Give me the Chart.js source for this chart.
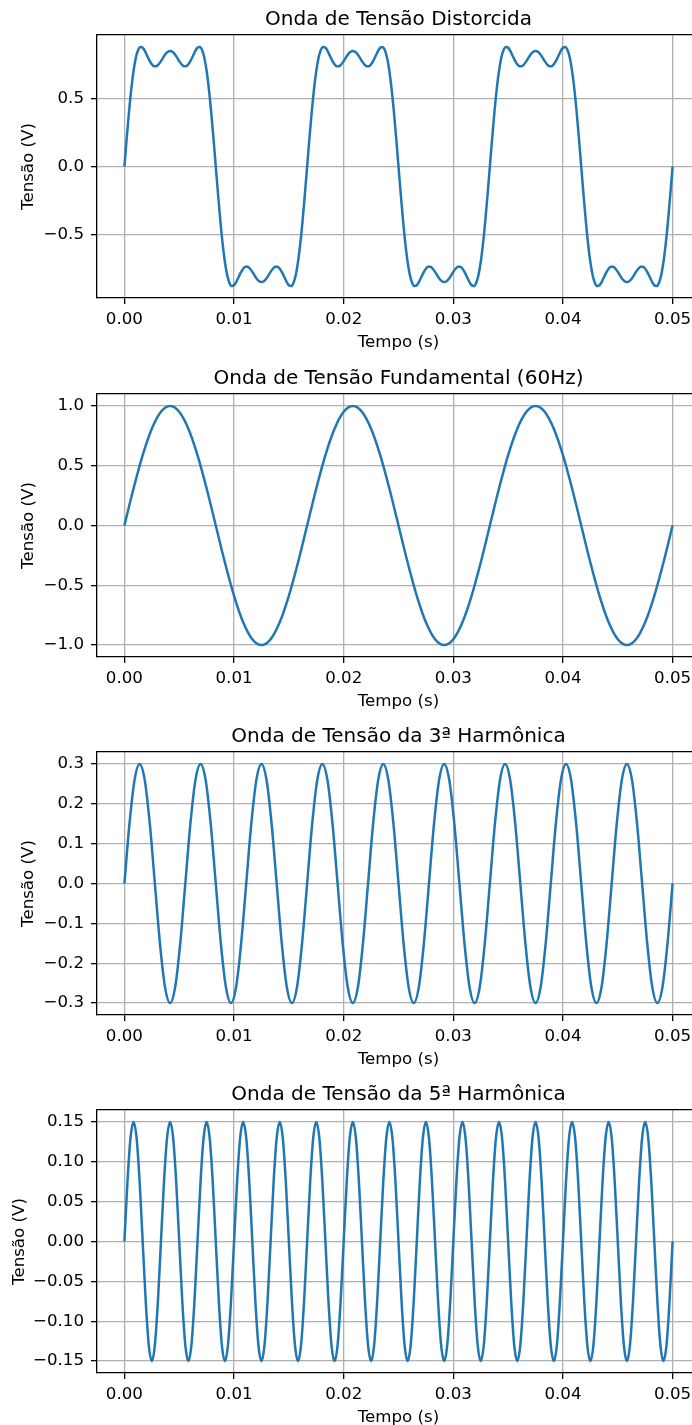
<!DOCTYPE html>
<html>
<head>
<meta charset="utf-8">
<script src="https://cdn.jsdelivr.net/npm/chart.js@4.4.1/dist/chart.umd.min.js"></script>
<style>
  html, body { margin: 0; padding: 0; background: #fff; overflow: hidden; }
  #fig { position: relative; width: 692px; height: 1425px; overflow: hidden; }
  canvas { position: absolute; left: 0; }
</style>
</head>
<body>
<div id="fig">
  <canvas id="c1" width="700" height="358" style="top:0px"></canvas>
  <canvas id="c2" width="700" height="358" style="top:359px"></canvas>
  <canvas id="c3" width="700" height="358" style="top:717px"></canvas>
  <canvas id="c4" width="700" height="358" style="top:1075px"></canvas>
</div>
<script>
// amostras, uniformes de 0 a 0.05 s
const tempoFinal = 0.05;

const ondaDistorcida = [
  0, 0.206, 0.399, 0.567, 0.702, 0.799, 0.856, 0.879, 0.873, 0.848, 0.813, 0.779, 0.752, 0.738, 0.738, 0.752, 0.775, 0.802, 0.827, 0.844,
  0.850, 0.844, 0.827, 0.802, 0.775, 0.752, 0.738, 0.738, 0.752, 0.779, 0.813, 0.848, 0.873, 0.879, 0.856, 0.799, 0.702, 0.567, 0.399, 0.206,
  0, -0.206, -0.399, -0.567, -0.702, -0.799, -0.856, -0.879, -0.873, -0.848, -0.813, -0.779, -0.752, -0.738, -0.738, -0.752, -0.775, -0.802, -0.827, -0.844,
  -0.850, -0.844, -0.827, -0.802, -0.775, -0.752, -0.738, -0.738, -0.752, -0.779, -0.813, -0.848, -0.873, -0.879, -0.856, -0.799, -0.702, -0.567, -0.399, -0.206,
  0, 0.206, 0.399, 0.567, 0.702, 0.799, 0.856, 0.879, 0.873, 0.848, 0.813, 0.779, 0.752, 0.738, 0.738, 0.752, 0.775, 0.802, 0.827, 0.844,
  0.850, 0.844, 0.827, 0.802, 0.775, 0.752, 0.738, 0.738, 0.752, 0.779, 0.813, 0.848, 0.873, 0.879, 0.856, 0.799, 0.702, 0.567, 0.399, 0.206,
  0, -0.206, -0.399, -0.567, -0.702, -0.799, -0.856, -0.879, -0.873, -0.848, -0.813, -0.779, -0.752, -0.738, -0.738, -0.752, -0.775, -0.802, -0.827, -0.844,
  -0.850, -0.844, -0.827, -0.802, -0.775, -0.752, -0.738, -0.738, -0.752, -0.779, -0.813, -0.848, -0.873, -0.879, -0.856, -0.799, -0.702, -0.567, -0.399, -0.206,
  0, 0.206, 0.399, 0.567, 0.702, 0.799, 0.856, 0.879, 0.873, 0.848, 0.813, 0.779, 0.752, 0.738, 0.738, 0.752, 0.775, 0.802, 0.827, 0.844,
  0.850, 0.844, 0.827, 0.802, 0.775, 0.752, 0.738, 0.738, 0.752, 0.779, 0.813, 0.848, 0.873, 0.879, 0.856, 0.799, 0.702, 0.567, 0.399, 0.206,
  0, -0.206, -0.399, -0.567, -0.702, -0.799, -0.856, -0.879, -0.873, -0.848, -0.813, -0.779, -0.752, -0.738, -0.738, -0.752, -0.775, -0.802, -0.827, -0.844,
  -0.850, -0.844, -0.827, -0.802, -0.775, -0.752, -0.738, -0.738, -0.752, -0.779, -0.813, -0.848, -0.873, -0.879, -0.856, -0.799, -0.702, -0.567, -0.399, -0.206,
  0
];

const ondaFundamental = [
  0, 0.309, 0.588, 0.809, 0.951, 1, 0.951, 0.809, 0.588, 0.309, 0, -0.309, -0.588, -0.809, -0.951, -1, -0.951, -0.809, -0.588, -0.309,
  0, 0.309, 0.588, 0.809, 0.951, 1, 0.951, 0.809, 0.588, 0.309, 0, -0.309, -0.588, -0.809, -0.951, -1, -0.951, -0.809, -0.588, -0.309,
  0, 0.309, 0.588, 0.809, 0.951, 1, 0.951, 0.809, 0.588, 0.309, 0, -0.309, -0.588, -0.809, -0.951, -1, -0.951, -0.809, -0.588, -0.309,
  0
];

const ondaTerceira = [
  0, 0.15, 0.26, 0.3, 0.26, 0.15, 0, -0.15, -0.26, -0.3, -0.26, -0.15,
  0, 0.15, 0.26, 0.3, 0.26, 0.15, 0, -0.15, -0.26, -0.3, -0.26, -0.15,
  0, 0.15, 0.26, 0.3, 0.26, 0.15, 0, -0.15, -0.26, -0.3, -0.26, -0.15,
  0, 0.15, 0.26, 0.3, 0.26, 0.15, 0, -0.15, -0.26, -0.3, -0.26, -0.15,
  0, 0.15, 0.26, 0.3, 0.26, 0.15, 0, -0.15, -0.26, -0.3, -0.26, -0.15,
  0, 0.15, 0.26, 0.3, 0.26, 0.15, 0, -0.15, -0.26, -0.3, -0.26, -0.15,
  0, 0.15, 0.26, 0.3, 0.26, 0.15, 0, -0.15, -0.26, -0.3, -0.26, -0.15,
  0, 0.15, 0.26, 0.3, 0.26, 0.15, 0, -0.15, -0.26, -0.3, -0.26, -0.15,
  0, 0.15, 0.26, 0.3, 0.26, 0.15, 0, -0.15, -0.26, -0.3, -0.26, -0.15,
  0
];

const ondaQuinta = [
  0, 0.075, 0.13, 0.15, 0.13, 0.075, 0, -0.075, -0.13, -0.15, -0.13, -0.075,
  0, 0.075, 0.13, 0.15, 0.13, 0.075, 0, -0.075, -0.13, -0.15, -0.13, -0.075,
  0, 0.075, 0.13, 0.15, 0.13, 0.075, 0, -0.075, -0.13, -0.15, -0.13, -0.075,
  0, 0.075, 0.13, 0.15, 0.13, 0.075, 0, -0.075, -0.13, -0.15, -0.13, -0.075,
  0, 0.075, 0.13, 0.15, 0.13, 0.075, 0, -0.075, -0.13, -0.15, -0.13, -0.075,
  0, 0.075, 0.13, 0.15, 0.13, 0.075, 0, -0.075, -0.13, -0.15, -0.13, -0.075,
  0, 0.075, 0.13, 0.15, 0.13, 0.075, 0, -0.075, -0.13, -0.15, -0.13, -0.075,
  0, 0.075, 0.13, 0.15, 0.13, 0.075, 0, -0.075, -0.13, -0.15, -0.13, -0.075,
  0, 0.075, 0.13, 0.15, 0.13, 0.075, 0, -0.075, -0.13, -0.15, -0.13, -0.075,
  0, 0.075, 0.13, 0.15, 0.13, 0.075, 0, -0.075, -0.13, -0.15, -0.13, -0.075,
  0, 0.075, 0.13, 0.15, 0.13, 0.075, 0, -0.075, -0.13, -0.15, -0.13, -0.075,
  0, 0.075, 0.13, 0.15, 0.13, 0.075, 0, -0.075, -0.13, -0.15, -0.13, -0.075,
  0, 0.075, 0.13, 0.15, 0.13, 0.075, 0, -0.075, -0.13, -0.15, -0.13, -0.075,
  0, 0.075, 0.13, 0.15, 0.13, 0.075, 0, -0.075, -0.13, -0.15, -0.13, -0.075,
  0, 0.075, 0.13, 0.15, 0.13, 0.075, 0, -0.075, -0.13, -0.15, -0.13, -0.075,
  0
];

const xTicks = [0, 0.01, 0.02, 0.03, 0.04, 0.05];
const yTicksDistorcida = [-0.5, 0, 0.5];
const yTicksFundamental = [-1, -0.5, 0, 0.5, 1];
const yTicksTerceira = [-0.3, -0.2, -0.1, 0, 0.1, 0.2, 0.3];
const yTicksQuinta = [-0.15, -0.10, -0.05, 0, 0.05, 0.10, 0.15];

const FONT = "'DejaVu Sans', sans-serif";
const tickFont = {family: FONT, size: 16.67};
const titleFont = {family: FONT, size: 20, weight: 'normal'};

const fmt = (v, d) => v.toFixed(d).replace('-', '\u2212');

// spine de cima (esquerda e baixo ja vem do border dos eixos)
const moldura = {
  id: 'moldura',
  afterDraw(chart) {
    const {ctx, chartArea: a} = chart;
    const y = Math.round(a.top - 0.65) + 0.65;
    ctx.save();
    ctx.strokeStyle = '#000';
    ctx.lineWidth = 1.3;
    ctx.beginPath();
    ctx.moveTo(a.left - 0.65, y);
    ctx.lineTo(a.right, y);
    ctx.stroke();
    ctx.restore();
  }
};

const makeChart = (id, titulo, valores, yTicks, casas, padTituloY) => {
  const passo = tempoFinal / (valores.length - 1);
  const pontos = valores.map((v, i) => ({x: i * passo, y: v}));
  const vMax = Math.max(...valores);
  const vMin = Math.min(...valores);
  const margem = (vMax - vMin) * 0.05;

  new Chart(document.getElementById(id), {
    type: 'line',
    data: {
      datasets: [{
        data: pontos,
        borderColor: '#1f77b4',
        borderWidth: 2.5,
        pointRadius: 0,
        fill: false,
        cubicInterpolationMode: 'monotone'
      }]
    },
    options: {
      responsive: false,
      animation: false,
      devicePixelRatio: 1,
      layout: {padding: {top: 7.5, left: 0, right: 0, bottom: 0}},
      plugins: {
        legend: {display: false},
        tooltip: {enabled: false},
        title: {
          display: true,
          text: titulo,
          fullSize: false,
          color: '#000',
          font: titleFont,
          padding: {top: 0, bottom: 3.5}
        }
      },
      scales: {
        x: {
          type: 'linear',
          min: -0.0025,
          max: 0.0525,
          afterBuildTicks: s => { s.ticks = xTicks.map(v => ({value: v})); },
          afterFit: s => { s.height = 60; },
          ticks: {
            callback: v => fmt(v, 2),
            font: tickFont,
            color: '#000',
            padding: 6,
            maxRotation: 0,
            autoSkip: false
          },
          grid: {color: '#b0b0b0', lineWidth: 1.3, tickColor: '#000', tickLength: 6, tickWidth: 1.3},
          border: {color: '#000', width: 1.3},
          title: {display: true, text: 'Tempo (s)', color: '#000', font: tickFont, padding: {top: 0, bottom: 5.5}}
        },
        y: {
          type: 'linear',
          min: vMin - margem,
          max: vMax + margem,
          afterBuildTicks: s => { s.ticks = yTicks.map(v => ({value: v})); },
          afterFit: s => { s.width = 97; },
          ticks: {
            callback: v => fmt(v, casas),
            font: tickFont,
            color: '#000',
            padding: 7
          },
          grid: {color: '#b0b0b0', lineWidth: 1.3, tickColor: '#000', tickLength: 6, tickWidth: 1.3},
          border: {color: '#000', width: 1.3},
          title: {display: true, text: 'Tensão (V)', color: '#000', font: tickFont, padding: {top: padTituloY, bottom: 0}}
        }
      }
    },
    plugins: [moldura]
  });
};

makeChart('c1', 'Onda de Tensão Distorcida', ondaDistorcida, yTicksDistorcida, 1, 19);
makeChart('c2', 'Onda de Tensão Fundamental (60Hz)', ondaFundamental, yTicksFundamental, 1, 19);
makeChart('c3', 'Onda de Tensão da 3ª Harmônica', ondaTerceira, yTicksTerceira, 1, 19);
makeChart('c4', 'Onda de Tensão da 5ª Harmônica', ondaQuinta, yTicksQuinta, 2, 10);
</script>
</body>
</html>
